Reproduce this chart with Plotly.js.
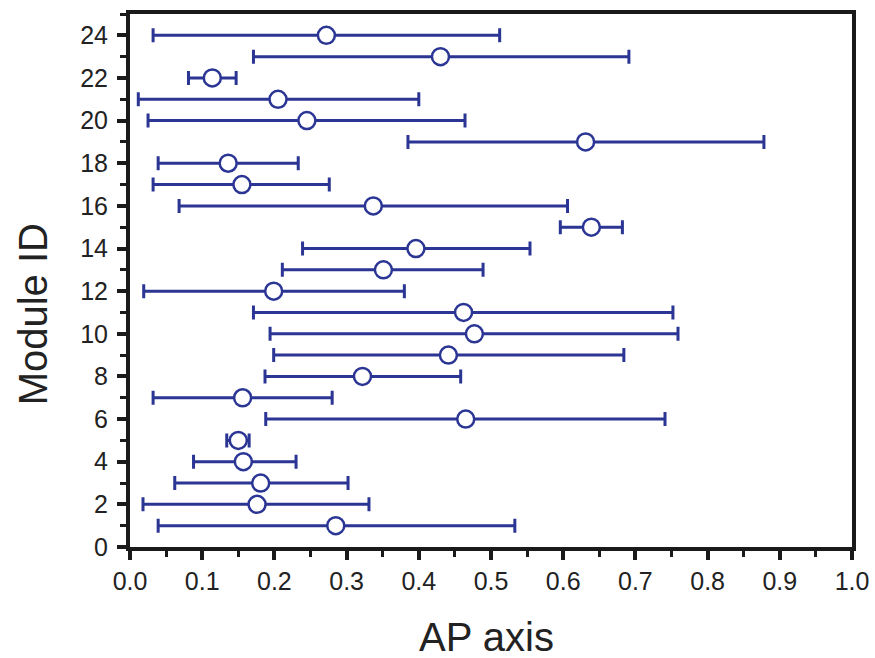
<!DOCTYPE html>
<html>
<head>
<meta charset="utf-8">
<script src="https://cdn.plot.ly/plotly-3.0.1.min.js"></script>
<style>html,body{margin:0;padding:0;background:#fff;}#chart{width:875px;height:658px;}</style>
</head>
<body>
<div id="chart"></div>
<script>
// Module IDs
const moduleIds = [1,2,3,4,5,6,7,8,9,10,11,12,13,14,15,16,17,18,19,20,21,22,23,24];
// Center AP value (open circles)
const apCenter = [0.285,0.176,0.181,0.157,0.150,0.465,0.156,0.322,0.441,0.477,0.462,0.199,0.351,0.396,0.639,0.337,0.155,0.136,0.631,0.245,0.205,0.114,0.430,0.272];
// Lower end of range
const apLow = [0.039,0.018,0.062,0.088,0.134,0.188,0.032,0.187,0.199,0.194,0.171,0.019,0.211,0.239,0.596,0.068,0.032,0.039,0.385,0.025,0.0115,0.081,0.171,0.032];
// Upper end of range
const apHigh = [0.533,0.331,0.302,0.230,0.165,0.741,0.280,0.458,0.684,0.759,0.752,0.380,0.489,0.554,0.682,0.606,0.276,0.233,0.878,0.464,0.400,0.147,0.691,0.512];
// Axis titles
const xTitle = 'AP axis';
const yTitle = 'Module ID';

const plus = apHigh.map((h,i)=>h-apCenter[i]);
const minus = apCenter.map((c,i)=>c-apLow[i]);
const col = '#2B3594';

const trace = {
  type:'scatter', mode:'markers',
  x: apCenter, y: moduleIds,
  error_x: {type:'data', symmetric:false, array: plus, arrayminus: minus, color: col, thickness: 3, width: 7},
  marker: {symbol:'circle', size: 17, color:'#ffffff', line:{color: col, width: 2.5}},
  cliponaxis:false, hoverinfo:'none'
};

const fam = '"Liberation Sans", Arial, sans-serif';
const txt = '#222';
const layout = {
  width:875, height:658,
  margin:{l:130, r:23, t:14, b:111},
  paper_bgcolor:'#fff', plot_bgcolor:'#fff',
  showlegend:false,
  font: {family:fam, color:txt},
  xaxis:{
    range:[0,1], dtick:0.1, tick0:0, tickformat:'.1f',
    showgrid:false, zeroline:false,
    showline:true, linecolor:'#1a1a1a', linewidth:4, mirror:true,
    ticks:'outside', ticklen:9, tickwidth:4, tickcolor:'#1a1a1a',
    minor:{dtick:0.05, tick0:0, ticks:'outside', ticklen:6, tickwidth:3, tickcolor:'#1a1a1a'},
    tickfont:{size:25, family:fam, color:txt}
  },
  yaxis:{
    range:[0,25], dtick:2, tick0:0,
    showgrid:false, zeroline:false,
    showline:true, linecolor:'#1a1a1a', linewidth:4, mirror:true,
    ticks:'outside', ticklen:9, tickwidth:4, tickcolor:'#1a1a1a',
    ticklabelstandoff:4,
    minor:{dtick:1, tick0:0, ticks:'outside', ticklen:6, tickwidth:3, tickcolor:'#1a1a1a'},
    tickfont:{size:25, family:fam, color:txt}
  },
  annotations:[
    {text:xTitle, xref:'paper', yref:'paper', x:0.494, y:-0.168, xanchor:'center', yanchor:'middle',
     showarrow:false, font:{size:40, family:fam, color:txt}},
    {text:yTitle, xref:'paper', yref:'paper', x:-0.134, y:0.437, xanchor:'center', yanchor:'middle',
     textangle:-90, showarrow:false, font:{size:40, family:fam, color:txt}}
  ]
};
Plotly.newPlot('chart',[trace],layout,{staticPlot:true});
</script>
</body>
</html>
